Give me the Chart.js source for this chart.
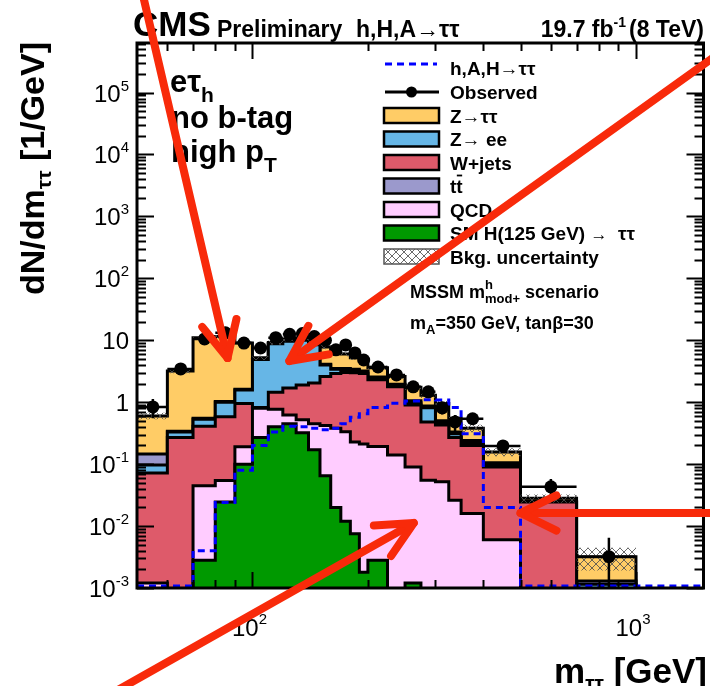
<!DOCTYPE html>
<html>
<head>
<meta charset="utf-8">
<title>CMS Preliminary h,H,A→ττ — eτh no b-tag high pT</title>
<script src="https://cdn.jsdelivr.net/npm/chart.js@4.4.1/dist/chart.umd.min.js"></script>
<style>
html,body{margin:0;padding:0;background:#ffffff;overflow:hidden;}
#wrap{position:relative;width:710px;height:686px;}
canvas{display:block;}
</style>
</head>
<body>
<div id="wrap"><canvas id="chart" width="710" height="686"></canvas></div>
<script>
// ---------------- data (dN/dm in 1/GeV) ----------------
const massBinEdges = [50,60,70,80,90,100,110,120,130,140,150,160,170,180,190,200,225,250,275,300,325,350,400,500,700,1000,1500];
// stacked backgrounds, bottom to top
const smHiggs = [0,0,0.0028,0.0245,0.10,0.27,0.40,0.45,0.32,0.17,0.065,0.02,0.012,0.0075,0.0018,0.0028,0,0.0012,0,0,0,0,0,0,0,0];
const qcd     = [0.0012,0,0.042,0.030,0.09,0.53,0.37,0.17,0.20,0.28,0.355,0.36,0.32,0.22,0.21,0.19,0.14,0.089,0.055,0.052,0.026,0.016,0.006,0,0,0];
const wJets   = [0.071,0.27,0.365,0.525,0.76,0.02,0.68,1.08,1.38,1.6,2.18,2.52,2.67,2.77,2.69,2.11,1.63,0.81,0.425,0.378,0.244,0.184,0.084,0.0245,0,0];
const zee     = [0.025,0.06,0.12,0.42,0.63,4.08,7.35,7.9,8.1,6.45,1.4,0.5,0.35,0.25,0.2,0.15,0.08,0.08,0.33,0.04,0.04,0.02,0.007,0.0005,0.00115,0];
const ttbar   = [0.049,0.01,0.02,0.03,0.04,0.05,0.05,0.1,0.1,0.1,0.1,0.1,0.15,0.15,0.1,0.1,0.1,0.07,0.06,0.03,0.02,0.02,0.008,0.0005,0.00015,0];
const ztt     = [0.454,2.86,10.45,10.47,7.38,0.25,0.35,0.8,0.9,1.4,3.7,2.8,2.5,1.8,1.4,1.05,0.65,0.7,0.43,0.45,0.22,0.14,0.052,0.0025,0.0019,0];
// MSSM signal (not stacked)
const signalHAH = [0,0,0.004,0.024,0.08,0.2,0.33,0.41,0.40,0.38,0.36,0.38,0.45,0.57,0.65,0.82,0.96,1.05,1.1,1.08,0.82,0.31,0.02,0,0,0];
// observed data
const observed = [0.84,3.45,10.5,13.2,9.0,7.5,11.0,12.5,12.8,11.5,10.0,7.0,8.4,6.25,4.8,3.7,2.76,1.77,1.47,0.81,0.48,0.54,0.197,0.043,0.0032,null];
// relative background uncertainty
const bkgUnc = [0.12,0.08,0.07,0.07,0.07,0.08,0.08,0.08,0.08,0.08,0.08,0.08,0.08,0.08,0.08,0.08,0.09,0.1,0.1,0.12,0.12,0.14,0.15,0.15,0.4,0];
// axes
const yDecadeExponents = [-3,-2,-1,0,1,2,3,4,5];
const xLabelTicks = [{value:100, base:'10', sup:'2'}, {value:1000, base:'10', sup:'3'}];
const xMinorTicks = [60,70,80,90,200,300,400,500,600,700,800,900];
const xMajorTicks = [100,1000];
const X_MIN = 50, X_MAX = 1500, Y_MIN = 1e-3, Y_MAX = 6.3e5;
// annotation arrows in data coordinates (tail -> tip)
const annotationArrows = [
  {from:{x:51.8, y:3.75e6}, to:{x:86.1, y:5.17}},
  {from:{x:1583, y:3.6e5},  to:{x:124.8, y:4.62}},
  {from:{x:44.6, y:2.26e-5},to:{x:263.4, y:0.0112}},
  {from:{x:1583, y:0.01625},to:{x:500, y:0.01625}}
];

// ---------------- helpers ----------------
const FONT = '"Liberation Sans", Arial, Helvetica, sans-serif';
const fnt = (size, bold) => (bold ? 'bold ' : '') + size + 'px ' + FONT;
Chart.defaults.font.family = FONT;

// a log axis cannot show 0: empty bins are sent below the axis (stack) or onto the axis floor (signal line)
const BELOW_AXIS = 1e-7;
const AXIS_FLOOR = 1.08e-3;
function stepPoints(vals, zeroAs){
  const z = zeroAs === undefined ? BELOW_AXIS : zeroAs;
  const pts = vals.map((v,i) => ({x: massBinEdges[i], y: v > 0 ? v : z}));
  const last = vals[vals.length-1];
  pts.push({x: massBinEdges[massBinEdges.length-1], y: last > 0 ? last : z});
  return pts;
}
function cumulate(arrs){
  return arrs[0].map((_,i) => arrs.reduce((s,a) => s + a[i], 0));
}
const cum1 = cumulate([smHiggs]);
const cum2 = cumulate([smHiggs,qcd]);
const cum3 = cumulate([smHiggs,qcd,wJets]);
const cum4 = cumulate([smHiggs,qcd,wJets,zee]);
const cum5 = cumulate([smHiggs,qcd,wJets,zee,ttbar]);
const cum6 = cumulate([smHiggs,qcd,wJets,zee,ttbar,ztt]);
const uncLow = cum6.map((v,i) => v*(1-bkgUnc[i]));
const uncHigh = cum6.map((v,i) => v*(1+bkgUnc[i]));

const COLORS = {ztt:'#ffcc66', tt:'#9b99cc', zee:'#66b6e6', w:'#de5a6a', qcd:'#ffccff', smh:'#009900'};

const canvas = document.getElementById('chart');
const mainCtx = canvas.getContext('2d');
function makeHatch(){
  const c = document.createElement('canvas'); c.width = 8; c.height = 8;
  const g = c.getContext('2d');
  g.strokeStyle = 'rgba(80,80,80,0.85)'; g.lineWidth = 1;
  g.beginPath(); g.moveTo(-1,-1); g.lineTo(9,9); g.moveTo(9,-1); g.lineTo(-1,9); g.stroke();
  return mainCtx.createPattern(c, 'repeat');
}
const hatch = makeHatch();

function drawRich(ctx, parts, x, y, align){
  let w = 0;
  for (const p of parts){ ctx.font = p.font; w += ctx.measureText(p.text).width + (p.gap||0); }
  let cx = align === 'right' ? x - w : (align === 'center' ? x - w/2 : x);
  ctx.textAlign = 'left'; ctx.textBaseline = 'alphabetic';
  for (const p of parts){
    ctx.font = p.font; ctx.fillStyle = p.color || '#000';
    ctx.fillText(p.text, cx, y + (p.dy||0));
    cx += ctx.measureText(p.text).width + (p.gap||0);
  }
  return w;
}

function stackDataset(label, data, color, order){
  return {label, data: stepPoints(data), stepped:'before', borderColor:'#000', borderWidth:3,
          backgroundColor: color, fill:'start', pointRadius:0, order};
}

const datasets = [
  {label:'Observed', data: observed.map((v,i)=>({x:(massBinEdges[i]+massBinEdges[i+1])/2, y:v})),
   showLine:false, pointRadius:6.5, pointBackgroundColor:'#000', pointBorderWidth:0, order:0},
  {label:'h,A,H→ττ', data: stepPoints(signalHAH, AXIS_FLOOR), stepped:'before', borderColor:'#0000ff', borderWidth:3,
   borderDash:[7,5], fill:false, pointRadius:0, order:1},
  {label:'Bkg. uncertainty', data: stepPoints(uncHigh), stepped:'before', borderWidth:0, borderColor:'rgba(0,0,0,0)',
   backgroundColor: hatch, fill: 3, pointRadius:0, order:2},
  {label:'unc-low', data: stepPoints(uncLow), stepped:'before', borderWidth:0, borderColor:'rgba(0,0,0,0)',
   fill:false, pointRadius:0, order:2},
  stackDataset('Z→ττ', cum6, COLORS.ztt, 8),
  stackDataset('tt̄', cum5, COLORS.tt, 7),
  stackDataset('Z→ee', cum4, COLORS.zee, 6),
  stackDataset('W+jets', cum3, COLORS.w, 5),
  stackDataset('QCD', cum2, COLORS.qcd, 4),
  stackDataset('SM H(125 GeV)→ττ', cum1, COLORS.smh, 3)
];

function arrowPath(ctx, x0,y0,x1,y1,len,ang){
  const a = Math.atan2(y0-y1, x0-x1);
  ctx.beginPath(); ctx.moveTo(x0,y0); ctx.lineTo(x1,y1); ctx.stroke();
  ctx.beginPath();
  ctx.moveTo(x1 + len*Math.cos(a+ang), y1 + len*Math.sin(a+ang));
  ctx.lineTo(x1,y1);
  ctx.lineTo(x1 + len*Math.cos(a-ang), y1 + len*Math.sin(a-ang));
  ctx.stroke();
}

const decor = {
  id:'cmsDecor',
  afterDraw(chart){
    const ctx = chart.ctx, xs = chart.scales.x, ys = chart.scales.y, A = chart.chartArea;
    const L = A.left, R = A.right, T = A.top, B = A.bottom;
    ctx.save();
    // data error bars
    ctx.save();
    ctx.beginPath(); ctx.rect(L, T, R-L, B-T); ctx.clip();
    ctx.strokeStyle = '#000'; ctx.lineWidth = 2.5;
    observed.forEach((v,i) => {
      if (v === null) return;
      const lo = massBinEdges[i], hi = massBinEdges[i+1], w = hi - lo;
      const err = Math.sqrt(v*w)/w;
      const yv = ys.getPixelForValue(v);
      const yHi = ys.getPixelForValue(v+err);
      const yLo = (v-err) > Y_MIN*0.5 ? ys.getPixelForValue(v-err) : B + 5;
      const xc = xs.getPixelForValue((lo+hi)/2);
      ctx.beginPath();
      ctx.moveTo(xs.getPixelForValue(lo), yv); ctx.lineTo(xs.getPixelForValue(hi), yv);
      ctx.moveTo(xc, yHi); ctx.lineTo(xc, yLo);
      ctx.stroke();
    });
    ctx.restore();

    // frame + ticks
    ctx.strokeStyle = '#000'; ctx.lineWidth = 3;
    ctx.strokeRect(L, T, R-L, B-T);
    ctx.lineWidth = 2;
    ctx.beginPath();
    for (const e of yDecadeExponents.concat([6])){
      for (let m = 1; m <= 9; m++){
        const v = m*Math.pow(10,e);
        if (v < Y_MIN || v > Y_MAX) continue;
        const y = Math.round(ys.getPixelForValue(v)) + 0.5;
        const len = m === 1 ? 17 : 9;
        ctx.moveTo(L, y); ctx.lineTo(L+len, y);
        ctx.moveTo(R, y); ctx.lineTo(R-len, y);
      }
    }
    for (const v of xMinorTicks.concat(xMajorTicks)){
      const x = Math.round(xs.getPixelForValue(v)) + 0.5;
      const len = xMajorTicks.includes(v) ? 16 : 8;
      ctx.moveTo(x, B); ctx.lineTo(x, B-len);
      ctx.moveTo(x, T); ctx.lineTo(x, T+len);
    }
    ctx.stroke();

    // y tick labels
    for (const e of yDecadeExponents){
      const y = ys.getPixelForValue(Math.pow(10,e));
      let parts;
      if (e === 0) parts = [{text:'1', font:fnt(24)}];
      else if (e === 1) parts = [{text:'10', font:fnt(24)}];
      else parts = [{text:'10', font:fnt(24)}, {text:(e<0?'-':'')+Math.abs(e), font:fnt(15), dy:-11}];
      drawRich(ctx, parts, 129, y + 9, 'right');
    }
    // x tick labels
    for (const t of xLabelTicks){
      const x = xs.getPixelForValue(t.value);
      drawRich(ctx, [{text:t.base, font:fnt(24)}, {text:t.sup, font:fnt(15), dy:-12}], x - 3, 636, 'center');
    }
    // axis titles
    drawRich(ctx, [{text:'m', font:fnt(35,true)}, {text:'ττ', font:fnt(21,true), dy:7}, {text:' [GeV]', font:fnt(35,true)}], 707, 683, 'right');
    ctx.save();
    ctx.translate(44, 42);
    ctx.rotate(-Math.PI/2);
    drawRich(ctx, [{text:'dN/dm', font:fnt(34,true)}, {text:'ττ', font:fnt(21,true), dy:7}, {text:' [1/GeV]', font:fnt(34,true)}], 0, 0, 'right');
    ctx.restore();

    // header
    drawRich(ctx, [{text:'CMS', font:fnt(35,true)}], 133, 36, 'left');
    drawRich(ctx, [{text:'Preliminary', font:fnt(23,true)}], 217, 37, 'left');
    drawRich(ctx, [{text:'h,H,A→ττ', font:fnt(23,true)}], 356, 37, 'left');
    drawRich(ctx, [{text:'19.7 fb', font:fnt(23,true)}, {text:'-1', font:fnt(14,true), dy:-10, gap:3}, {text:'(8 TeV)', font:fnt(23,true)}], 704, 37, 'right');

    // category text
    drawRich(ctx, [{text:'eτ', font:fnt(31,true)}, {text:'h', font:fnt(21,true), dy:10}], 170, 92, 'left');
    drawRich(ctx, [{text:'no b-tag', font:fnt(31,true)}], 171, 128, 'left');
    drawRich(ctx, [{text:'high p', font:fnt(31,true)}, {text:'T', font:fnt(21,true), dy:10}], 171, 162, 'left');

    // legend
    const lx0 = 384, lx1 = 439, tx = 450;
    const rows = [68, 92, 115.5, 139, 162.5, 186, 209.5, 233, 256.5];
    ctx.lineWidth = 3;
    ctx.strokeStyle = '#0000ff'; ctx.setLineDash([7,5]);
    ctx.beginPath(); ctx.moveTo(lx0+1, rows[0]-4); ctx.lineTo(lx1-2, rows[0]-4); ctx.stroke();
    ctx.setLineDash([]);
    ctx.strokeStyle = '#000';
    ctx.beginPath(); ctx.moveTo(lx0+1, rows[1]); ctx.lineTo(lx1, rows[1]); ctx.stroke();
    ctx.fillStyle = '#000'; ctx.beginPath(); ctx.arc((lx0+lx1)/2, rows[1], 5.5, 0, 2*Math.PI); ctx.fill();
    const boxes = [COLORS.ztt, COLORS.zee, COLORS.w, COLORS.tt, COLORS.qcd, COLORS.smh];
    boxes.forEach((c,k) => {
      const yc = rows[2+k];
      ctx.fillStyle = c; ctx.fillRect(lx0, yc-7.5, lx1-lx0, 15);
      ctx.lineWidth = 2.5; ctx.strokeStyle = '#000'; ctx.strokeRect(lx0, yc-7.5, lx1-lx0, 15);
    });
    { const yc = rows[8];
      ctx.fillStyle = '#fff'; ctx.fillRect(lx0, yc-7.5, lx1-lx0, 15);
      ctx.fillStyle = hatch; ctx.fillRect(lx0, yc-7.5, lx1-lx0, 15);
      ctx.lineWidth = 1.5; ctx.strokeStyle = '#555'; ctx.strokeRect(lx0, yc-7.5, lx1-lx0, 15); }
    const LF = fnt(19,true);
    const lt = [
      [{text:'h,A,H→ττ', font:LF}],
      [{text:'Observed', font:LF}],
      [{text:'Z→ττ', font:LF}],
      [{text:'Z→ ee', font:LF}],
      [{text:'W+jets', font:LF}],
      [{text:'tt', font:LF}],
      [{text:'QCD', font:LF}],
      [{text:'SM H(125 GeV) ', font:LF}, {text:'→', font:fnt(17)}, {text:'  ττ', font:LF}],
      [{text:'Bkg. uncertainty', font:LF}]
    ];
    lt.forEach((parts,k) => drawRich(ctx, parts, tx, rows[k] + 7, 'left'));
    ctx.font = LF;
    const tw = ctx.measureText('t').width;
    ctx.lineWidth = 1.8; ctx.strokeStyle = '#000';
    ctx.beginPath(); ctx.moveTo(tx + tw + 0.5, rows[5] - 10.5); ctx.lineTo(tx + 2*tw - 0.5, rows[5] - 10.5); ctx.stroke();

    // scenario text
    drawRich(ctx, [{text:'MSSM m', font:fnt(18,true)}, {text:'h', font:fnt(13,true), dy:-9}], 410, 298, 'left');
    ctx.font = fnt(18,true);
    const wM = ctx.measureText('MSSM m').width;
    drawRich(ctx, [{text:'mod+', font:fnt(13,true), dy:5}, {text:' scenario', font:fnt(18,true)}], 410 + wM, 298, 'left');
    drawRich(ctx, [{text:'m', font:fnt(18,true)}, {text:'A', font:fnt(13,true), dy:5}, {text:'=350 GeV, tanβ=30', font:fnt(18,true)}], 410, 329, 'left');

    // annotation arrows
    ctx.strokeStyle = '#f82a0a'; ctx.lineWidth = 8; ctx.lineCap = 'round'; ctx.lineJoin = 'round';
    for (const a of annotationArrows){
      arrowPath(ctx, xs.getPixelForValue(a.from.x), ys.getPixelForValue(a.from.y),
                xs.getPixelForValue(a.to.x), ys.getPixelForValue(a.to.y), 40, 26*Math.PI/180);
    }
    ctx.restore();
  }
};

new Chart(canvas, {
  type:'line',
  data:{datasets},
  options:{
    responsive:false, animation:false, devicePixelRatio:1,
    layout:{padding:{left:137, right:4, top:43, bottom:98}},
    scales:{
      x:{type:'logarithmic', min:X_MIN, max:X_MAX, display:false},
      y:{type:'logarithmic', min:Y_MIN, max:Y_MAX, display:false}
    },
    plugins:{legend:{display:false}, tooltip:{enabled:false}, filler:{propagate:false}},
    elements:{line:{tension:0}}
  },
  plugins:[decor]
});
</script>
</body>
</html>
